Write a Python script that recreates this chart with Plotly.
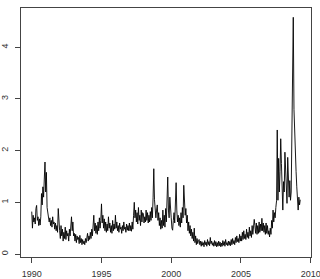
import plotly.graph_objects as go

start_year = 1990.0
steps_per_year = 20

# values, one row per year (20 samples per year)
spread = [
    # 1990
    0.82, 0.50, 0.75, 0.62, 0.70, 0.58, 0.88, 0.94, 0.65, 0.72, 0.55, 0.68, 0.56, 0.72, 1.17, 0.95, 1.30, 1.10, 1.45, 1.78,
    # 1991
    1.20, 1.58, 0.90, 0.82, 0.75, 0.62, 0.70, 0.55, 0.65, 0.52, 0.72, 0.58, 0.62, 0.48, 0.60, 0.45, 0.55, 0.42, 0.88, 0.50,
    # 1992
    0.45, 0.30, 0.55, 0.35, 0.48, 0.25, 0.42, 0.30, 0.52, 0.28, 0.45, 0.35, 0.40, 0.25, 0.48, 0.35, 0.60, 0.72, 0.45, 0.62,
    # 1993
    0.35, 0.40, 0.25, 0.38, 0.22, 0.35, 0.28, 0.32, 0.20, 0.36, 0.22, 0.30, 0.18, 0.28, 0.20, 0.25, 0.18, 0.30, 0.22, 0.35,
    # 1994
    0.40, 0.25, 0.35, 0.28, 0.42, 0.30, 0.48, 0.35, 0.56, 0.75, 0.45, 0.60, 0.40, 0.55, 0.38, 0.62, 0.45, 0.70, 0.50, 0.65,
    # 1995
    0.97, 0.60, 0.75, 0.50, 0.68, 0.45, 0.62, 0.42, 0.58, 0.45, 0.72, 0.50, 0.60, 0.42, 0.55, 0.40, 0.65, 0.45, 0.58, 0.48,
    # 1996
    0.75, 0.50, 0.62, 0.45, 0.55, 0.42, 0.60, 0.48, 0.52, 0.40, 0.55, 0.45, 0.62, 0.48, 0.52, 0.42, 0.58, 0.46, 0.55, 0.45,
    # 1997
    0.60, 0.45, 0.55, 0.44, 0.62, 0.48, 0.75, 1.00, 0.70, 0.85, 0.62, 0.80, 0.58, 0.90, 0.65, 0.75, 0.55, 0.85, 0.62, 0.80,
    # 1998
    0.78, 0.60, 0.72, 0.62, 0.85, 0.65, 0.80, 0.60, 0.75, 0.62, 0.82, 0.65, 0.90, 0.70, 1.10, 1.65, 1.05, 0.90, 0.70, 0.85,
    # 1999
    0.95, 0.65, 0.80, 0.55, 0.70, 0.48, 0.65, 0.50, 0.85, 0.55, 0.75, 0.52, 0.88, 0.62, 0.95, 1.49, 0.85, 0.70, 1.10, 0.75,
    # 2000
    0.70, 0.50, 0.46, 0.65, 0.80, 0.60, 0.90, 1.38, 0.85, 0.62, 0.75, 0.55, 0.70, 0.52, 0.80, 0.60, 0.90, 0.70, 1.33, 0.80,
    # 2001
    0.75, 0.88, 0.60, 0.75, 0.45, 0.62, 0.40, 0.55, 0.35, 0.48, 0.30, 0.42, 0.25, 0.50, 0.22, 0.35, 0.18, 0.30, 0.20, 0.26,
    # 2002
    0.28, 0.18, 0.25, 0.15, 0.24, 0.17, 0.22, 0.14, 0.26, 0.18, 0.23, 0.15, 0.28, 0.18, 0.24, 0.16, 0.32, 0.20, 0.25, 0.17,
    # 2003
    0.22, 0.15, 0.26, 0.16, 0.24, 0.14, 0.22, 0.15, 0.25, 0.16, 0.23, 0.14, 0.21, 0.15, 0.26, 0.17, 0.24, 0.15, 0.28, 0.18,
    # 2004
    0.22, 0.16, 0.25, 0.17, 0.24, 0.16, 0.28, 0.18, 0.30, 0.20, 0.26, 0.18, 0.32, 0.22, 0.35, 0.24, 0.30, 0.22, 0.38, 0.25,
    # 2005
    0.35, 0.25, 0.42, 0.28, 0.45, 0.30, 0.38, 0.28, 0.48, 0.32, 0.42, 0.30, 0.52, 0.35, 0.45, 0.32, 0.55, 0.38, 0.50, 0.67,
    # 2006
    0.55, 0.40, 0.60, 0.38, 0.55, 0.40, 0.62, 0.42, 0.58, 0.45, 0.69, 0.45, 0.60, 0.42, 0.55, 0.38, 0.60, 0.40, 0.55, 0.38,
    # 2007
    0.45, 0.33, 0.50, 0.38, 0.65, 0.50, 0.85, 0.62, 0.80, 0.70, 0.90, 1.03, 2.40, 1.04, 1.85, 1.20, 1.60, 2.23, 1.75, 1.37,
    # 2008
    0.85, 1.40, 1.20, 1.97, 1.60, 1.30, 0.98, 1.87, 1.40, 1.10, 1.42, 1.04, 1.20, 2.80, 3.60, 4.58, 2.80, 2.20, 2.05, 1.60,
    # 2009
    1.30, 0.95, 0.85, 1.10, 0.95, 1.05,
]

x_ticks = [1990, 1995, 2000, 2005, 2010]
y_ticks = [0, 1, 2, 3, 4]

time = [start_year + i / steps_per_year for i in range(len(spread))]

fig = go.Figure()
fig.add_trace(go.Scatter(
    x=time, y=spread, mode="lines",
    line=dict(color="black", width=0.9),
    hoverinfo="skip", showlegend=False,
))

axis_common = dict(
    showgrid=False, zeroline=False,
    showline=True, mirror=True, linecolor="#444", linewidth=1,
    ticks="outside", ticklen=5, tickcolor="#444", tickwidth=1,
    tickfont=dict(family="Liberation Sans, Arial, sans-serif", size=9, color="#333"),
    automargin=False, ticklabeloverflow="allow",
)

fig.update_layout(
    width=320, height=279,
    margin=dict(l=21, r=9, t=8, b=22),
    paper_bgcolor="white", plot_bgcolor="white",
    xaxis=dict(range=[1989.23, 2010.02], tickvals=x_ticks,
               ticktext=[str(v) for v in x_ticks], ticklabelstandoff=3,
               **axis_common),
    yaxis=dict(range=[-0.058, 4.76], tickvals=y_ticks,
               ticktext=[str(v) for v in y_ticks], tickangle=-90,
               ticklabelstandoff=3, **axis_common),
)

fig.write_html("out.html", config={"displayModeBar": False})
